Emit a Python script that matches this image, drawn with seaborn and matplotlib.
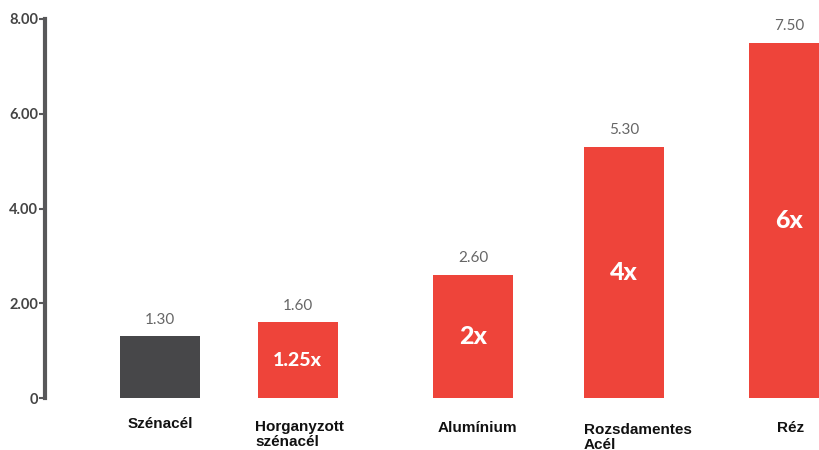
import matplotlib
matplotlib.use("Agg")
import matplotlib.pyplot as plt
import seaborn as sns
import pandas as pd

# Material cost comparison
materials = ["Szénacél", "Horganyzott\nszénacél", "Alumínium", "Rozsdamentes\nAcél", "Réz"]
costs = [1.30, 1.60, 2.60, 5.30, 7.50]
multipliers = ["", "1.25x", "2x", "4x", "6x"]
y_ticks = [0, 2, 4, 6, 8]
y_tick_labels = ["0", "2.00", "4.00", "6.00", "8.00"]

# Layout: horizontal bar centres (in axis units) and label placement
x_pos = [160, 297.5, 473, 624, 789]
label_ha = ["center", "left", "center", "left", "center"]
label_x = [160, 255, 477, 584, 791]
label_y = [-0.55, -0.77, -0.63, -0.83, -0.63]

colors = ["#474749", "#ee443a", "#ee443a", "#ee443a", "#ee443a"]

sns.set_theme(style="white")
plt.rcParams["font.family"] = ["Liberation Sans", "DejaVu Sans"]

fig = plt.figure(figsize=(8.19, 4.5), dpi=100)
ax = fig.add_axes([45 / 819, 52 / 450, 1 - 45 / 819, 1 - 52 / 450])

df = pd.DataFrame({"x": x_pos, "cost": costs, "mat": materials})
sns.barplot(data=df, x="x", y="cost", hue="mat", palette=colors,
            native_scale=True, width=80 / 137.5, legend=False, ax=ax,
            saturation=1, linewidth=0)

ax.set_xlim(45, 819)
ax.set_ylim(0, 8 * 398 / 379)

for s in ["top", "right", "bottom"]:
    ax.spines[s].set_visible(False)
ax.spines["left"].set_bounds(0, 8)
ax.spines["left"].set_color("#58585a")
ax.spines["left"].set_linewidth(3)

ax.set_yticks(y_ticks)
ax.set_yticklabels(y_tick_labels, fontsize=10.5, color="#444444",
                   family=["Lato", "DejaVu Sans"], fontweight="bold")
ax.tick_params(axis="y", length=4, width=1.5, color="#58585a", pad=1, left=True)
ax.set_xticks([])
ax.set_xlabel("")
ax.set_ylabel("")

for xp, c, m, lx, ha, ly, name in zip(x_pos, costs, multipliers, label_x,
                                       label_ha, label_y, materials):
    ax.text(xp, c + 0.2, f"{c:.2f}", ha="center", va="bottom", fontsize=11,
            color="#666666", family=["Lato", "DejaVu Sans"])
    if m:
        size = 14 if m == "1.25x" else 18
        ax.text(xp, c / 2, m, ha="center", va="center", fontsize=size,
                color="white", fontweight="black", family=["Lato", "DejaVu Sans"])
    ax.text(lx, ly, name, ha=ha, va="center", fontsize=11, fontweight="bold",
            color="#111111", linespacing=1.05, clip_on=False)

fig.savefig("out.png", dpi=100)
